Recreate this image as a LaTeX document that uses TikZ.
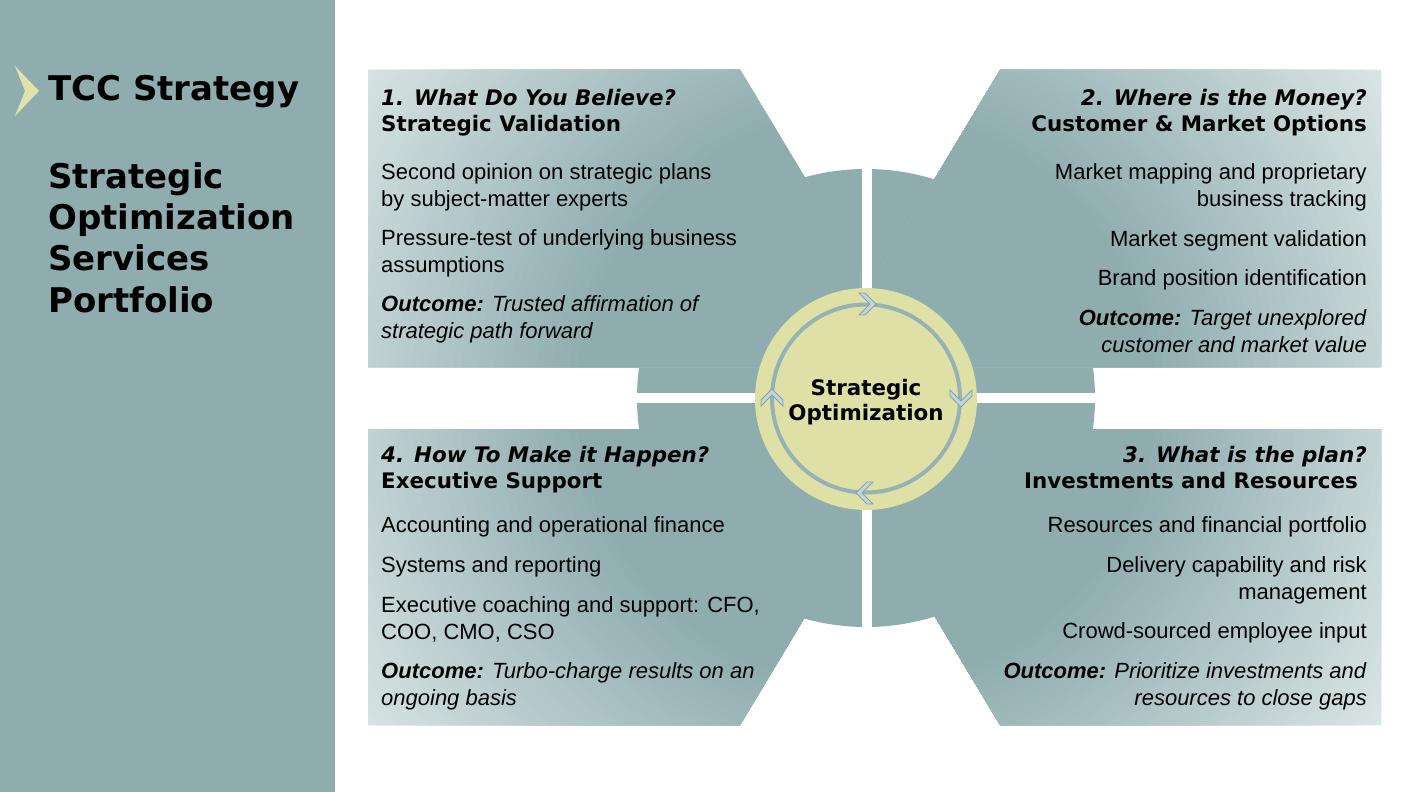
\documentclass[tikz,border=0pt]{standalone}
\usepackage{fontspec}
\setmainfont{Liberation Sans}
\newfontfamily\heavyfont{DejaVu Sans}
\usetikzlibrary{positioning}

\definecolor{slate}{RGB}{143,173,175}
\definecolor{pale}{RGB}{220,230,230}
\definecolor{hubfill}{RGB}{222,224,166}
\definecolor{ringline}{RGB}{150,178,183}
\definecolor{tipfill}{RGB}{196,212,217}
\definecolor{tipline}{RGB}{135,163,170}
\definecolor{markyellow}{RGB}{224,226,170}

\begin{document}
\begin{tikzpicture}[
  x=1pt, y=-1pt,
  body/.style={inner sep=0pt, align=left, font=\fontsize{22}{26.5}\selectfont},
  bodyr/.style={body, align=right},
  head/.style={inner sep=0pt, align=left, font=\heavyfont\bfseries\fontsize{21.4}{26}\selectfont},
  headr/.style={head, align=right},
  side/.style={inner sep=0pt, align=left, font=\heavyfont\bfseries\fontsize{34}{41.3}\selectfont},
  hubtext/.style={inner sep=0pt, align=center, font=\heavyfont\bfseries\fontsize{21.4}{25}\selectfont},
  chev/.style={fill=tipfill, draw=tipline, line width=0.8pt},
]
  \useasboundingbox (0,0) rectangle (1411,792);
  \fill[white] (0,0) rectangle (1411,792);

  % left band
  \fill[slate] (0,0) rectangle (335,792);
  \fill[markyellow] (15,66) -- (39,91) -- (15,116) -- (25,91) -- cycle;
  \node[side, anchor=base west] (tcc) at (48,100) {TCC Strategy};
  \node[side, below=212pt of tcc.base west, anchor=base west] (sop)
    {Strategic\\Optimization\\Services\\Portfolio};

  % split disk and fading panels
  \fill[slate] (866,398) circle (229pt);
  \begin{scope}
    \clip (368,70) -- (740,70) -- (860,270) -- (860,367) -- (368,367) -- cycle
          (1000,70) -- (1381,70) -- (1381,367) -- (874,367) -- (874,280) -- cycle
          (368,429) -- (860,429) -- (860,525) -- (740,725) -- (368,725) -- cycle
          (874,429) -- (1381,429) -- (1381,725) -- (1000,725) -- (874,515) -- cycle;
    \foreach \k in {0,...,40}{
      \pgfmathsetmacro\rad{620-8.25*\k}
      \pgfmathsetmacro\mix{100-2.5*\k}
      \fill[pale!\mix!slate] (866,398) circle (\rad pt);
    }
  \end{scope}
  \fill[white] (862,160) rectangle (872,640);
  \fill[white] (630,393) rectangle (1100,403);

  % hub
  \fill[hubfill] (866,399) circle (111pt);
  \draw[ringline, line width=4pt] (866,398.5) circle (94pt);
  \foreach \px/\py/\ang in {869/304/0, 961/400/-90, 863/493/180, 772/396/90}
    \path[chev, shift={(\px,\py)}, rotate=\ang]
      (7,0) -- (-4,11) -- (-10,11) -- (1,0) -- (-10,-11) -- (-4,-11) -- cycle;
  \node[hubtext] (hub) at (866,402) {Strategic\\Optimization};

  % 1
  \node[head, anchor=base west] (q1) at (381,131)
    {\textit{1. What Do You Believe?}\\Strategic Validation};
  \node[body, below=75pt of q1.base west, anchor=base west] (q1a)
    {Second opinion on strategic plans\\by subject-matter experts};
  \node[body, below=66pt of q1a.base west, anchor=base west] (q1b)
    {Pressure-test of underlying business\\assumptions};
  \node[body, below=66pt of q1b.base west, anchor=base west] (q1c)
    {\textbf{\textit{Outcome:}} \textit{Trusted affirmation of}\\\textit{strategic path forward}};

  % 2
  \node[headr, anchor=base east] (q2) at (1367,131)
    {\textit{2. Where is the Money?}\\Customer \& Market Options};
  \node[bodyr, below=75pt of q2.base east, anchor=base east] (q2a)
    {Market mapping and proprietary\\business tracking};
  \node[bodyr, below=40pt of q2a.base east, anchor=base east] (q2b) {Market segment validation};
  \node[bodyr, below=39pt of q2b.base east, anchor=base east] (q2c) {Brand position identification};
  \node[bodyr, below=67pt of q2c.base east, anchor=base east] (q2d)
    {\textbf{\textit{Outcome:}} \textit{Target unexplored}\\\textit{customer and market value}};

  % 3
  \node[headr, anchor=base east] (q3) at (1367,488)
    {\textit{3. What is the plan?}\\Investments and Resources\hspace*{9pt}};
  \node[bodyr, below=44pt of q3.base east, anchor=base east] (q3a)
    {Resources and financial portfolio};
  \node[bodyr, below=67pt of q3a.base east, anchor=base east] (q3b)
    {Delivery capability and risk\\management};
  \node[bodyr, below=39pt of q3b.base east, anchor=base east] (q3c) {Crowd-sourced employee input};
  \node[bodyr, below=67pt of q3c.base east, anchor=base east] (q3d)
    {\textbf{\textit{Outcome:}} \textit{Prioritize investments and}\\\textit{resources to close gaps}};

  % 4
  \node[head, anchor=base west] (q4) at (381,488)
    {\textit{4. How To Make it Happen?}\\Executive Support};
  \node[body, below=44pt of q4.base west, anchor=base west] (q4a)
    {Accounting and operational finance};
  \node[body, below=40pt of q4a.base west, anchor=base west] (q4b) {Systems and reporting};
  \node[body, below=67pt of q4b.base west, anchor=base west] (q4c)
    {Executive coaching and support: CFO,\\COO, CMO, CSO};
  \node[body, below=66pt of q4c.base west, anchor=base west] (q4d)
    {\textbf{\textit{Outcome:}} \textit{Turbo-charge results on an}\\\textit{ongoing basis}};
\end{tikzpicture}
\end{document}
